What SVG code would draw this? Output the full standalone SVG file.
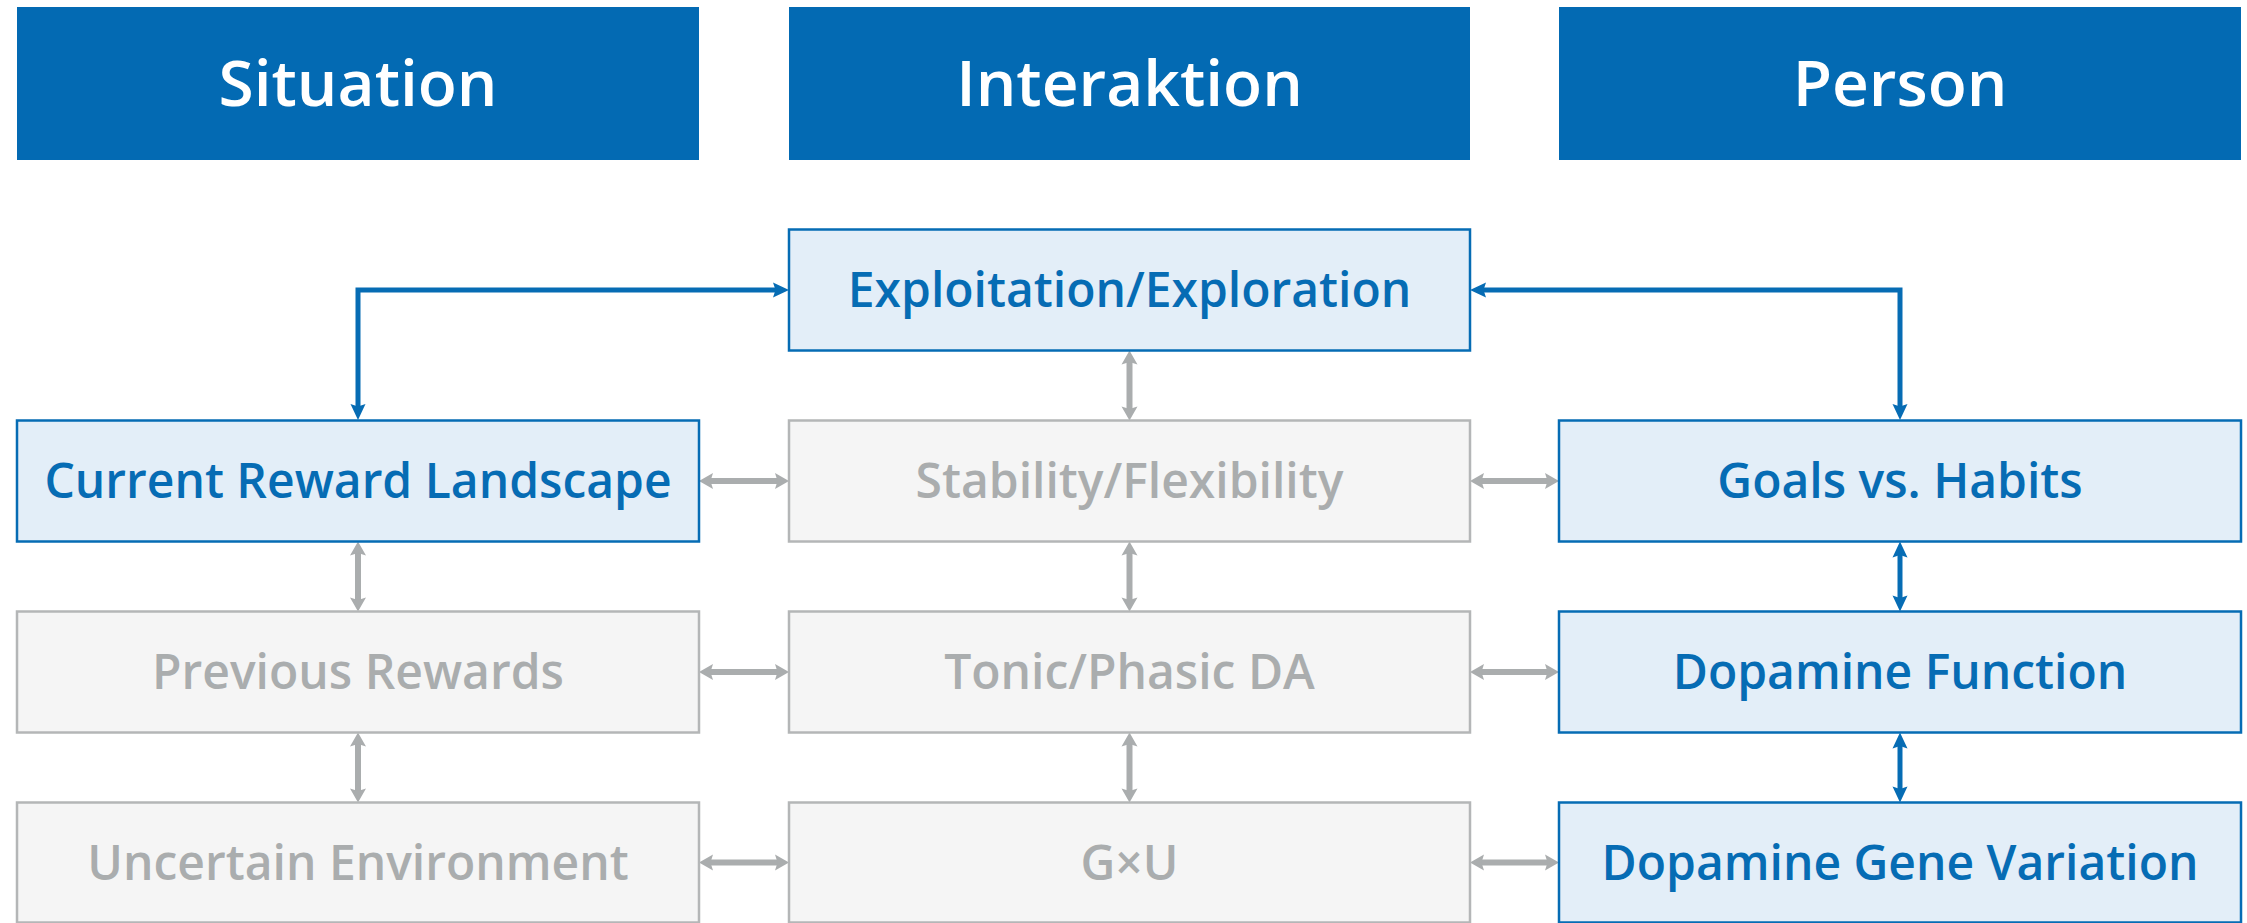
<svg xmlns="http://www.w3.org/2000/svg" width="2247" height="923" viewBox="0 0 2247 923">
  <style>
    .hdr { fill: #036AB3; }
    .hdr-t { font-family: "Open Sans", "Liberation Sans", sans-serif; font-size: 64px; font-weight: 600; fill: #FFFFFF; text-anchor: middle; }
    .on rect { fill: #E3EEF8; stroke: #066CB4; stroke-width: 2.5; }
    .on text { fill: #066CB4; }
    .off rect { fill: #F5F5F5; stroke: #B4B6B7; stroke-width: 2.5; }
    .off text { fill: #AAADAE; }
    .lbl { font-family: "Open Sans", "Liberation Sans", sans-serif; font-size: 48px; font-weight: 600; text-anchor: middle; }
    .c-on { fill: none; stroke: #066CB4; stroke-width: 5; marker-start: url(#ah-on); marker-end: url(#ah-on); }
    .c-off { fill: none; stroke: #AAADAE; stroke-width: 6; marker-start: url(#ah-off); marker-end: url(#ah-off); }
  </style>
  <defs>
    <marker id="ah-on" markerUnits="userSpaceOnUse" markerWidth="16" markerHeight="16" refX="8" refY="8" orient="auto-start-reverse" overflow="visible">
      <path d="M0,0.5 L16,8 L0,15.5 L2.5,8 Z" fill="#066CB4"/>
    </marker>
    <marker id="ah-off" markerUnits="userSpaceOnUse" markerWidth="16" markerHeight="16" refX="6" refY="8" orient="auto-start-reverse" overflow="visible">
      <path d="M0,0 L14,8 L0,16 L2.5,8 Z" fill="#AAADAE"/>
    </marker>
  </defs>

  <!-- column headers -->
  <g id="hdr-situation">
    <rect class="hdr" x="17" y="7" width="682" height="153"/>
    <text class="hdr-t" x="358" y="106">Situation</text>
  </g>
  <g id="hdr-interaktion">
    <rect class="hdr" x="789" y="7" width="681" height="153"/>
    <text class="hdr-t" x="1129.5" y="106">Interaktion</text>
  </g>
  <g id="hdr-person">
    <rect class="hdr" x="1559" y="7" width="682" height="153"/>
    <text class="hdr-t" x="1900" y="106">Person</text>
  </g>

  <!-- connectors -->
  <g id="connectors">
    <path class="c-on" d="M358,412 V290 H781"/>
    <path class="c-on" d="M1900,412 V290 H1478"/>
    <path class="c-on" d="M1900,549.5 V603.5"/>
    <path class="c-on" d="M1900,740.5 V794.5"/>

    <path class="c-off" d="M1129.5,358.5 V412.5"/>
    <path class="c-off" d="M1129.5,549.5 V603.5"/>
    <path class="c-off" d="M1129.5,740.5 V794.5"/>
    <path class="c-off" d="M358,549.5 V603.5"/>
    <path class="c-off" d="M358,740.5 V794.5"/>

    <path class="c-off" d="M707,481 H781"/>
    <path class="c-off" d="M1478,481 H1551"/>
    <path class="c-off" d="M707,672 H781"/>
    <path class="c-off" d="M1478,672 H1551"/>
    <path class="c-off" d="M707,862.5 H781"/>
    <path class="c-off" d="M1478,862.5 H1551"/>
  </g>

  <!-- nodes -->
  <g id="exploitation-exploration" class="on">
    <rect x="789" y="229.5" width="681" height="121"/>
    <text class="lbl" x="1129.5" y="307">Exploitation/Exploration</text>
  </g>

  <g id="current-reward-landscape" class="on">
    <rect x="17" y="420.5" width="682" height="121"/>
    <text class="lbl" x="358" y="498">Current Reward Landscape</text>
  </g>
  <g id="stability-flexibility" class="off">
    <rect x="789" y="420.5" width="681" height="121"/>
    <text class="lbl" x="1129.5" y="498">Stability/Flexibility</text>
  </g>
  <g id="goals-habits" class="on">
    <rect x="1559" y="420.5" width="682" height="121"/>
    <text class="lbl" x="1900" y="498">Goals vs. Habits</text>
  </g>

  <g id="previous-rewards" class="off">
    <rect x="17" y="611.5" width="682" height="121"/>
    <text class="lbl" x="358" y="689">Previous Rewards</text>
  </g>
  <g id="tonic-phasic-da" class="off">
    <rect x="789" y="611.5" width="681" height="121"/>
    <text class="lbl" x="1129.5" y="689">Tonic/Phasic DA</text>
  </g>
  <g id="dopamine-function" class="on">
    <rect x="1559" y="611.5" width="682" height="121"/>
    <text class="lbl" x="1900" y="689">Dopamine Function</text>
  </g>

  <g id="uncertain-environment" class="off">
    <rect x="17" y="802.5" width="682" height="120"/>
    <text class="lbl" x="358" y="879.5">Uncertain Environment</text>
  </g>
  <g id="gxu" class="off">
    <rect x="789" y="802.5" width="681" height="120"/>
    <text class="lbl" x="1129.5" y="879.5">G×U</text>
  </g>
  <g id="dopamine-gene-variation" class="on">
    <rect x="1559" y="802.5" width="682" height="120"/>
    <text class="lbl" x="1900" y="879.5">Dopamine Gene Variation</text>
  </g>
</svg>
